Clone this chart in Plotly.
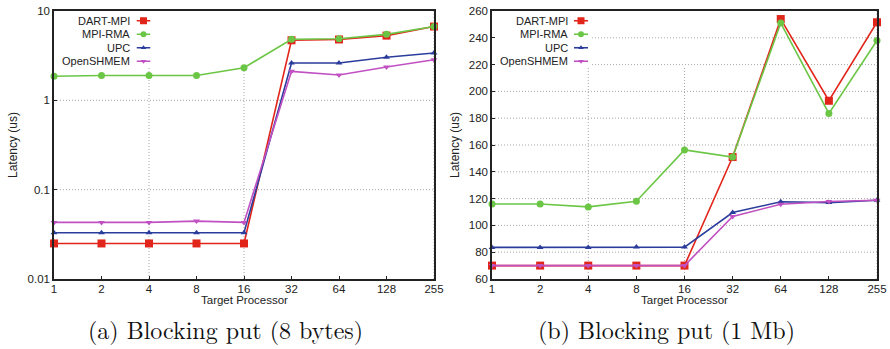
import plotly.graph_objects as go

procs = ["1", "2", "4", "8", "16", "32", "64", "128", "255"]
series_names = ["DART-MPI", "MPI-RMA", "UPC", "OpenSHMEM"]

# (a) Blocking put (8 bytes), latency in us
a_dart = [0.025, 0.025, 0.025, 0.025, 0.025, 4.7, 4.8, 5.3, 6.7]
a_rma = [1.86, 1.9, 1.9, 1.9, 2.32, 4.82, 4.9, 5.48, 6.7]
a_upc = [0.033, 0.033, 0.033, 0.033, 0.033, 2.62, 2.62, 3.03, 3.39]
a_shmem = [0.043, 0.043, 0.043, 0.0445, 0.043, 2.11, 1.92, 2.36, 2.85]

# (b) Blocking put (1 Mb), latency in us
b_dart = [70, 70, 70, 70, 70, 151, 254, 193, 251.6]
b_rma = [116, 116, 113.8, 118, 156.3, 151, 251, 183.6, 238]
b_upc = [83.6, 83.6, 83.6, 83.8, 83.8, 109.6, 117.6, 117, 118.8]
b_shmem = [70, 70, 70, 70, 70, 106.6, 115.8, 117.8, 118.8]

a_ticks = [0.01, 0.1, 1, 10]
a_ticktext = ["0.01", "0.1", "1", "10"]
b_ticks = [60, 80, 100, 120, 140, 160, 180, 200, 220, 240, 260]

colors = ["#e2251b", "#6cc646", "#2b3d9c", "#c150c3"]
symbols = ["square", "circle", "triangle-up", "triangle-down"]
msizes = [8, 7, 6, 6]

W, H = 890, 349
FONT = "Liberation Sans, Arial, sans-serif"
TXT = "#222222"
GRID = dict(color="#a8a8a8", width=1, dash="1px,2px")

def px_x(p):
    return p / W

def px_y(p):
    return 1 - p / H

# plot-area pixel boxes
TOP, BOT = 11, 279
A_L, A_R = 54, 434
B_L, B_R = 492, 877
LEG_BOTTOM = 68
A_LEG_RIGHT, B_LEG_RIGHT = 153, 592

fig = go.Figure()

a_data = [a_dart, a_rma, a_upc, a_shmem]
b_data = [b_dart, b_rma, b_upc, b_shmem]

for i in range(4):
    fig.add_trace(go.Scatter(x=procs, y=a_data[i], mode="lines+markers", name=series_names[i],
                             line=dict(color=colors[i], width=1.6),
                             marker=dict(symbol=symbols[i], size=msizes[i], color=colors[i]),
                             xaxis="x", yaxis="y", showlegend=False, cliponaxis=False))
for i in range(4):
    fig.add_trace(go.Scatter(x=procs, y=b_data[i], mode="lines+markers", name=series_names[i],
                             line=dict(color=colors[i], width=1.6),
                             marker=dict(symbol=symbols[i], size=msizes[i], color=colors[i]),
                             xaxis="x2", yaxis="y2", showlegend=False, cliponaxis=False))

# custom legend samples (symbol to the right of the label, gnuplot style)
rows = list(range(4))
for ax_x, ax_y in (("x3", "y3"), ("x4", "y4")):
    for i in range(4):
        fig.add_trace(go.Scatter(x=[0, 1], y=[rows[i], rows[i]], mode="lines",
                                 line=dict(color=colors[i], width=1.6),
                                 xaxis=ax_x, yaxis=ax_y, showlegend=False, hoverinfo="skip"))
        fig.add_trace(go.Scatter(x=[0.5], y=[rows[i]], mode="markers",
                                 marker=dict(symbol=symbols[i], size=msizes[i] - 1, color=colors[i]),
                                 xaxis=ax_x, yaxis=ax_y, showlegend=False, hoverinfo="skip"))

axis_common = dict(showline=True, linecolor="#222222", linewidth=1.5, mirror=True,
                   showgrid=False, ticks="inside", ticklen=3, tickcolor="#222222",
                   automargin=False, tickfont=dict(family=FONT, size=11.5, color=TXT),
                   zeroline=False)

fig.update_layout(
    width=W, height=H, margin=dict(l=0, r=0, t=0, b=0),
    paper_bgcolor="white", plot_bgcolor="rgba(0,0,0,0)",
    xaxis=dict(domain=[px_x(A_L), px_x(A_R)], type="category", range=[0, 8],
               anchor="y", ticklabelstandoff=-2, **axis_common),
    yaxis=dict(domain=[px_y(BOT), px_y(TOP)], type="log", range=[-2, 1],
               tickvals=a_ticks, ticktext=a_ticktext, anchor="x", **axis_common),
    xaxis2=dict(domain=[px_x(B_L), px_x(B_R)], type="category", range=[0, 8],
                anchor="y2", ticklabelstandoff=-2, **axis_common),
    yaxis2=dict(domain=[px_y(BOT), px_y(TOP)], range=[60, 260], tickvals=b_ticks,
                anchor="x2", **axis_common),
    xaxis3=dict(domain=[px_x(136.5), px_x(150.5)], range=[0, 1], visible=False, anchor="y3"),
    yaxis3=dict(domain=[px_y(68), px_y(14)], range=[3.5, -0.5], visible=False, anchor="x3"),
    xaxis4=dict(domain=[px_x(574), px_x(588)], range=[0, 1], visible=False, anchor="y4"),
    yaxis4=dict(domain=[px_y(68), px_y(14)], range=[3.5, -0.5], visible=False, anchor="x4"),
)

# dotted grid, interrupted by the legend box (gnuplot style)
leg_frac_y = (BOT - LEG_BOTTOM) / (BOT - TOP)
n = len(procs) - 1
for xr, yr, left, right, leg_right in (("x", "y", A_L, A_R, A_LEG_RIGHT),
                                       ("x2", "y2", B_L, B_R, B_LEG_RIGHT)):
    for k in range(1, n):
        xpx = left + k * (right - left) / n
        y1 = leg_frac_y if xpx < leg_right else 1
        fig.add_shape(type="line", xref=xr, yref=yr + " domain", x0=procs[k], x1=procs[k],
                      y0=0, y1=y1, line=GRID, layer="below")

import math
for t in a_ticks[1:-1]:
    frac = (math.log10(t) + 2) / 3
    ypx = BOT - frac * (BOT - TOP)
    x0 = (A_LEG_RIGHT - A_L) / (A_R - A_L) if ypx < LEG_BOTTOM else 0
    fig.add_shape(type="line", xref="x domain", yref="y", x0=x0, x1=1, y0=t, y1=t,
                  line=GRID, layer="below")
for t in b_ticks[1:-1]:
    frac = (t - 60) / 200
    ypx = BOT - frac * (BOT - TOP)
    x0 = (B_LEG_RIGHT - B_L) / (B_R - B_L) if ypx < LEG_BOTTOM else 0
    fig.add_shape(type="line", xref="x2 domain", yref="y2", x0=x0, x1=1, y0=t, y1=t,
                  line=GRID, layer="below")

# legend labels
for i in range(4):
    yc = 14 + (i + 0.5) * 13.5
    fig.add_annotation(text=series_names[i], xref="paper", yref="paper",
                       x=px_x(132), y=px_y(yc), xanchor="right", yanchor="middle",
                       showarrow=False, font=dict(family=FONT, size=11, color=TXT))
    fig.add_annotation(text=series_names[i], xref="paper", yref="paper",
                       x=px_x(569.5), y=px_y(yc), xanchor="right", yanchor="middle",
                       showarrow=False, font=dict(family=FONT, size=11, color=TXT))

# axis titles
for xc in (244, 684.5):
    fig.add_annotation(text="Target Processor", xref="paper", yref="paper",
                       x=px_x(xc), y=px_y(299.5), xanchor="center", yanchor="middle",
                       showarrow=False, font=dict(family=FONT, size=11.5, color=TXT))
for xc in (13, 455):
    fig.add_annotation(text="Latency (us)", xref="paper", yref="paper", textangle=-90,
                       x=px_x(xc), y=px_y(145), xanchor="center", yanchor="middle",
                       showarrow=False, font=dict(family=FONT, size=12, color=TXT))

# sub-captions
CAP = "Latin Modern Roman, CMU Serif, Liberation Serif, DejaVu Serif, serif"
fig.add_annotation(text="(a) Blocking put (8 bytes)", xref="paper", yref="paper",
                   x=px_x(225), y=px_y(329), xanchor="center", yanchor="middle",
                   showarrow=False, font=dict(family=CAP, size=24, color="#111111"))
fig.add_annotation(text="(b) Blocking put (1 Mb)", xref="paper", yref="paper",
                   x=px_x(666), y=px_y(329), xanchor="center", yanchor="middle",
                   showarrow=False, font=dict(family=CAP, size=24, color="#111111"))

fig.write_html("out.html")
